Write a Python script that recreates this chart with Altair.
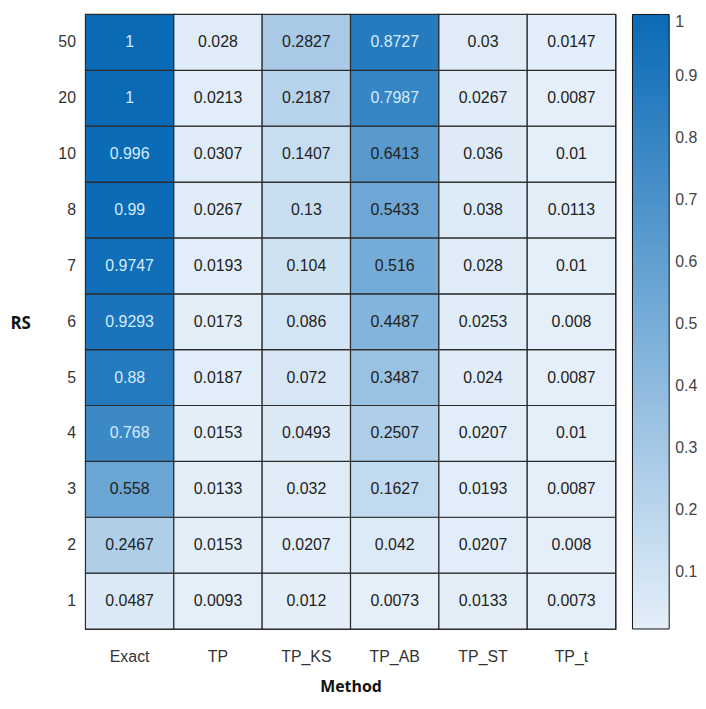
import altair as alt
import pandas as pd

methods = ["Exact", "TP", "TP_KS", "TP_AB", "TP_ST", "TP_t"]
rs_levels = ["1", "2", "3", "4", "5", "6", "7", "8", "10", "20", "50"]

exact = [0.0487, 0.2467, 0.558, 0.768, 0.88, 0.9293, 0.9747, 0.99, 0.996, 1, 1]
tp = [0.0093, 0.0153, 0.0133, 0.0153, 0.0187, 0.0173, 0.0193, 0.0267, 0.0307, 0.0213, 0.028]
tp_ks = [0.012, 0.0207, 0.032, 0.0493, 0.072, 0.086, 0.104, 0.13, 0.1407, 0.2187, 0.2827]
tp_ab = [0.0073, 0.042, 0.1627, 0.2507, 0.3487, 0.4487, 0.516, 0.5433, 0.6413, 0.7987, 0.8727]
tp_st = [0.0133, 0.0207, 0.0193, 0.0207, 0.024, 0.0253, 0.028, 0.038, 0.036, 0.0267, 0.03]
tp_t = [0.0073, 0.008, 0.0087, 0.01, 0.0087, 0.008, 0.01, 0.0113, 0.01, 0.0087, 0.0147]

series = [exact, tp, tp_ks, tp_ab, tp_st, tp_t]
rows = []
for m, vals in zip(methods, series):
    for r, v in zip(rs_levels, vals):
        rows.append({"Method": m, "RS": r, "value": v})
df = pd.DataFrame(rows)

LABEL_FONT = "Liberation Sans, Arial, sans-serif"
TITLE_FONT = "Open Sans, DejaVu Sans, sans-serif"

x_enc = alt.X("Method:N", sort=methods,
              axis=alt.Axis(title="Method", labelAngle=0, ticks=False, domain=False,
                            labelFontSize=16, labelColor="#333333", labelFont=LABEL_FONT,
                            labelPadding=20, titleFontSize=16, titleFont=TITLE_FONT,
                            titleFontWeight="bold", titleColor="#111111", titlePadding=14))
y_enc = alt.Y("RS:N", sort=list(reversed(rs_levels)),
              axis=alt.Axis(title="RS", titleAngle=0, titleX=-76, titleY=311,
                            titleAlign="left", titleBaseline="middle",
                            ticks=False, domain=False, labelFontSize=16,
                            labelColor="#333333", labelFont=LABEL_FONT, labelPadding=10,
                            titleFontSize=17, titleFont=TITLE_FONT,
                            titleFontWeight="bold", titleColor="#111111"))

rect = alt.Chart(df).mark_rect(stroke="#2b2b2b", strokeWidth=1.2).encode(
    x=x_enc,
    y=y_enc,
    color=alt.Color("value:Q",
                    scale=alt.Scale(domain=[0.0073, 1], range=["#e4eff9", "#0a6ab6"],
                                    interpolate="rgb"),
                    legend=alt.Legend(title=None, orient="right", offset=17,
                                      gradientLength=619, gradientThickness=37,
                                      gradientStrokeColor="#111111", gradientStrokeWidth=1,
                                      values=[0.1, 0.2, 0.3, 0.4, 0.5, 0.6, 0.7, 0.8, 0.9, 1],
                                      format="~g",
                                      labelFontSize=16, labelColor="#444444",
                                      labelFont=LABEL_FONT, labelOffset=6,
                                      labelOverlap=False)),
)

text = alt.Chart(df).mark_text(fontSize=16, font=LABEL_FONT).encode(
    x=alt.X("Method:N", sort=methods),
    y=alt.Y("RS:N", sort=list(reversed(rs_levels))),
    text=alt.Text("value:Q", format="~g"),
    color=alt.condition(alt.datum.value > 0.7, alt.value("#d4ecfb"), alt.value("#222222")),
)

chart = (rect + text).properties(
    width=534, height=619,
    padding={"left": 2, "top": 3, "right": 0, "bottom": 0},
).configure_view(stroke="#2b2b2b", strokeWidth=1.2)

chart.save("out.html", embed_options={"renderer": "svg", "actions": False})
